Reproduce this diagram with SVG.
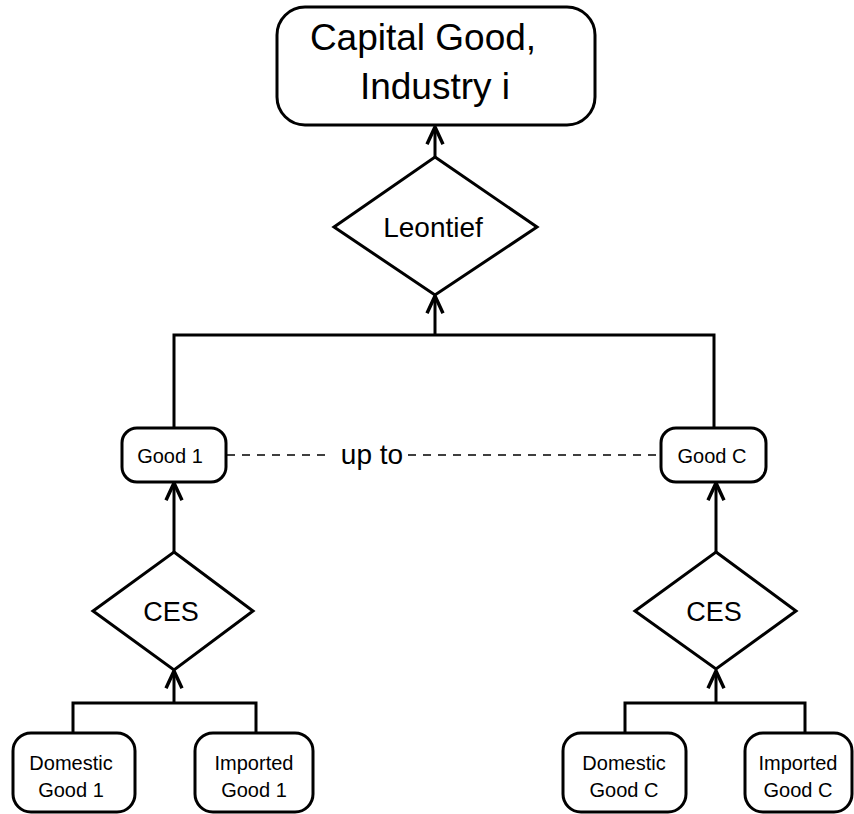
<svg xmlns="http://www.w3.org/2000/svg" width="854" height="814" viewBox="0 0 854 814">
<style>
.box{fill:#fff;stroke:#000;stroke-width:3}
.t{font-family:"Liberation Sans",Arial,sans-serif;fill:#000;text-anchor:middle}
.c{fill:none;stroke:#000;stroke-width:3}
.d{fill:none;stroke:#000;stroke-width:1.4;stroke-dasharray:8 7}
</style>
<defs>
<marker id="arr" markerUnits="userSpaceOnUse" markerWidth="24" markerHeight="24" refX="0" refY="0" viewBox="-14 -9 16 18" orient="auto">
<path d="M-13,-6 L0,0 L-13,6" fill="none" stroke="#000" stroke-width="2.6"/>
</marker>
</defs>
<g id="connectors">
<line class="c" x1="435" y1="157" x2="435" y2="127" marker-end="url(#arr)"/>
<line class="c" x1="435" y1="335" x2="435" y2="296" marker-end="url(#arr)"/>
<polyline class="c" points="174,428 174,335 714,335 714,428"/>
<line class="c" x1="174" y1="552" x2="174" y2="483" marker-end="url(#arr)"/>
<line class="c" x1="716" y1="552" x2="716" y2="483" marker-end="url(#arr)"/>
<line class="c" x1="174" y1="703" x2="174" y2="671" marker-end="url(#arr)"/>
<line class="c" x1="716" y1="703" x2="716" y2="671" marker-end="url(#arr)"/>
<polyline class="c" points="73,733 73,703 256,703 256,733"/>
<polyline class="c" points="625,733 625,703 805,703 805,733"/>
<line class="d" x1="227" y1="455" x2="330" y2="455"/>
<line class="d" x1="408" y1="455" x2="660" y2="455"/>
<text class="t" x="372" y="464" font-size="28">up to</text>
</g>
<g id="capital">
<rect class="box" x="277" y="7" width="318" height="118" rx="28"/>
<text class="t" x="423" y="50" font-size="37">Capital Good,</text>
<text class="t" x="435" y="99" font-size="37">Industry i</text>
</g>
<g id="leontief">
<polygon class="box" points="435,157 537,227 435,295 334,227"/>
<text class="t" x="433" y="237" font-size="28">Leontief</text>
</g>
<g id="good1">
<rect class="box" x="122" y="428" width="104" height="54" rx="15"/>
<text class="t" x="170" y="463" font-size="20">Good 1</text>
</g>
<g id="goodC">
<rect class="box" x="661" y="428" width="105" height="54" rx="15"/>
<text class="t" x="712" y="463" font-size="20">Good C</text>
</g>
<g id="ces1">
<polygon class="box" points="174,552 253,611 174,670 93,611"/>
<text class="t" x="171" y="621" font-size="27">CES</text>
</g>
<g id="cesC">
<polygon class="box" points="716,552 796,611 716,669 635,611"/>
<text class="t" x="714" y="621" font-size="27">CES</text>
</g>
<g id="dom1">
<rect class="box" x="13" y="733" width="122" height="79" rx="18"/>
<text class="t" x="71" y="770" font-size="20">Domestic</text>
<text class="t" x="71" y="797" font-size="20">Good 1</text>
</g>
<g id="imp1">
<rect class="box" x="195" y="733" width="118" height="79" rx="18"/>
<text class="t" x="254" y="770" font-size="20">Imported</text>
<text class="t" x="254" y="797" font-size="20">Good 1</text>
</g>
<g id="domC">
<rect class="box" x="563" y="733" width="123" height="79" rx="18"/>
<text class="t" x="624" y="770" font-size="20">Domestic</text>
<text class="t" x="624" y="797" font-size="20">Good C</text>
</g>
<g id="impC">
<rect class="box" x="745" y="733" width="107" height="79" rx="18"/>
<text class="t" x="798" y="770" font-size="20">Imported</text>
<text class="t" x="798" y="797" font-size="20">Good C</text>
</g>
</svg>
